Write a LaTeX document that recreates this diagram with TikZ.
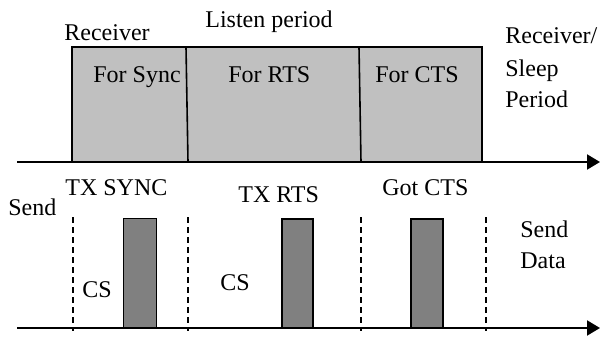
\documentclass[tikz,border=0pt]{standalone}
\usepackage{fontspec}
\setmainfont{Liberation Serif}
\usetikzlibrary{arrows.meta}
\begin{document}
\begin{tikzpicture}[x=0.5pt,y=-0.5pt,
  lbl/.style={anchor=base west,inner sep=0pt,font=\fontsize{12}{16}\selectfont},
  axis/.style={line width=1pt,-{Triangle[length=6.5pt,width=7.5pt]}},
  slot/.style={draw=black,line width=0.8pt,fill=boxgray},
  barplain/.style={fill=bargray},
  barframed/.style={fill=bargray,draw=black,line width=0.8pt},
  cs/.style={dash pattern=on 3pt off 2pt,line width=0.8pt}]
\definecolor{boxgray}{HTML}{C0C0C0}
\definecolor{bargray}{HTML}{808080}
\useasboundingbox (0,0) rectangle (600,339);
% receiver box
\draw[slot] (72,47) rectangle (482,162);
\coordinate (d1t) at (186,47); \coordinate (d1b) at (188,162);
\coordinate (d2t) at (359,47); \coordinate (d2b) at (361,162);
\draw[line width=0.8pt] (d1t) -- (d1b);
\draw[line width=0.8pt] (d2t) -- (d2b);
% axes
\coordinate (a1s) at (17,162); \coordinate (a1e) at (600,162);
\coordinate (a2s) at (17,328); \coordinate (a2e) at (600,328);
\draw[axis] (a1s) -- (a1e);
% bars
\draw[barplain] (123,218) rectangle (156,328);
\draw[barframed] (282,219) rectangle (313,328);
\draw[barframed] (411,219) rectangle (443,328);
\draw[axis] (a2s) -- (a2e);
% dashed lines
\foreach \x/\n in {73/c1,188/c2,361/c3,486/c4}{
  \coordinate (\n t) at (\x,217); \coordinate (\n b) at (\x,331);
  \draw[cs] (\n t) -- (\n b);
}
% labels
\node[lbl] (recv) at (64,40) {Receiver};
\node[lbl] (listen) at (205,27) {Listen period};
\node[lbl] (fsync) at (93,82) {For Sync};
\node[lbl] (frts) at (228,82) {For RTS};
\node[lbl] (fcts) at (375,82) {For CTS};
\node[lbl] (rs1) at (505,43) {Receiver/};
\node[lbl] (rs2) at (505,76) {Sleep};
\node[lbl] (rs3) at (505,107) {Period};
\node[lbl] (txsync) at (65,195) {TX SYNC};
\node[lbl] (send) at (8,215) {Send};
\node[lbl] (cs1) at (82,297) {CS};
\node[lbl] (cs2) at (220,290) {CS};
\node[lbl] (txrts) at (238,202) {TX RTS};
\node[lbl] (gotcts) at (382,195) {Got CTS};
\node[lbl] (sd1) at (520,237) {Send};
\node[lbl] (sd2) at (520,268) {Data};
\end{tikzpicture}
\end{document}
